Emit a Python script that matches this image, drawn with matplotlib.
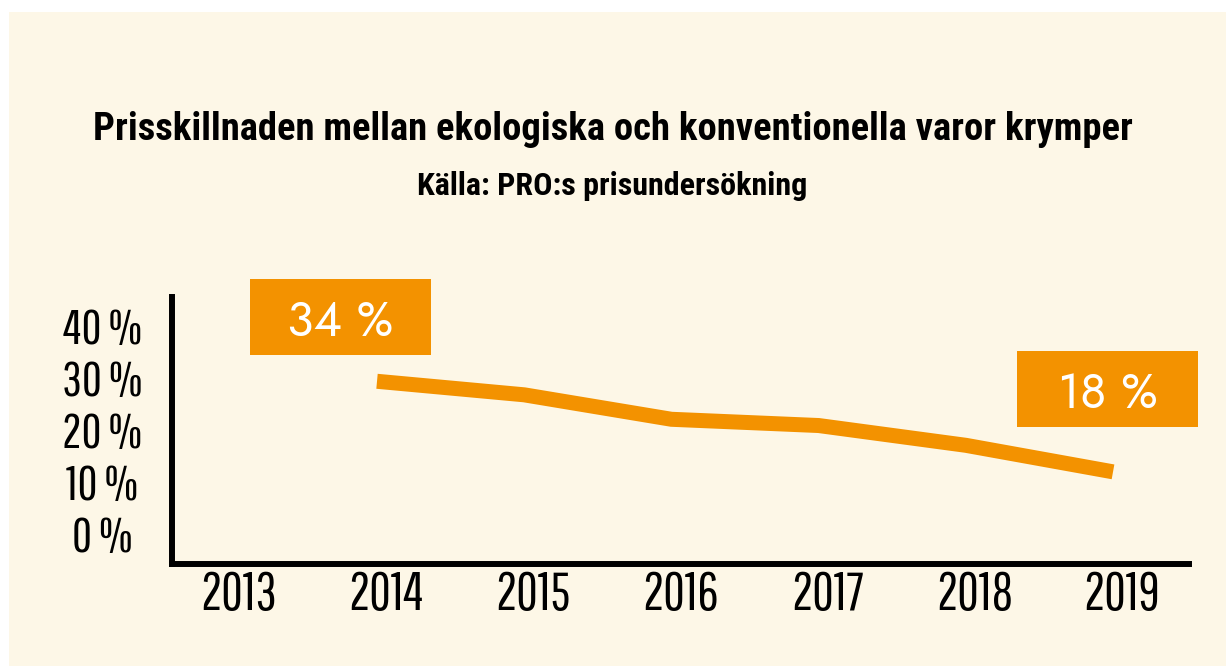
import matplotlib
matplotlib.use('Agg')
import matplotlib.pyplot as plt
from matplotlib.patches import Rectangle
from matplotlib.transforms import ScaledTranslation

# values (y axis in percent)
years = [2014, 2015, 2016, 2017, 2018, 2019]
price_gap = [29.4, 26.8, 22.1, 20.9, 17.1, 12.0]
tick_years = [2013, 2014, 2015, 2016, 2017, 2018, 2019]
y_ticks = [0, 10, 20, 30, 40]
y_labels = ['0 %', '10 %', '20 %', '30 %', '40 %']
callouts = ['34 %', '18 %']

title = 'Prisskillnaden mellan ekologiska och konventionella varor krymper'
subtitle = 'Källa: PRO:s prisundersökning'

ORANGE = '#F39200'
CREAM = '#FDF7E7'
TICKFONT = ['Pathway Gothic One', 'DejaVu Sans']
HEADFONT = ['Roboto Condensed', 'DejaVu Sans']
BOXFONT = ['Jost', 'DejaVu Sans']

fig = plt.figure(figsize=(12.26, 6.66), dpi=100, facecolor='white')
fig.patches.append(Rectangle((9 / 1226, 0), 1, (666 - 12) / 666,
                             transform=fig.transFigure, facecolor=CREAM,
                             edgecolor='none', zorder=-10))

ax = fig.add_axes([0.1399, 0.1532, 0.8299, 0.4009])
ax.set_facecolor('none')
ax.plot(years, price_gap, color=ORANGE, lw=10.8,
        solid_capstyle='butt', solid_joinstyle='miter', zorder=3)

ax.set_xlim(2012.604, 2019.516)
ax.set_ylim(-5.7, 45.6)
for side in ['top', 'right']:
    ax.spines[side].set_visible(False)
for side in ['left', 'bottom']:
    ax.spines[side].set_linewidth(4.3)
    ax.spines[side].set_color('black')

ax.set_xticks(tick_years)
ax.set_xticklabels([str(y) for y in tick_years], family=TICKFONT, fontsize=38)
ax.set_yticks(y_ticks)
ax.set_yticklabels(y_labels, family=TICKFONT, fontsize=35, ha='center')
ax.tick_params(axis='x', length=0, pad=4)
ax.tick_params(axis='y', length=0, pad=50)
shift = ScaledTranslation(9 / 100, 0, fig.dpi_scale_trans)
for lab in ax.get_xticklabels():
    lab.set_transform(lab.get_transform() + shift)

# callout boxes near first and last point
box_w, box_h = 1.23, 14.6
offsets = [(-0.248, 12.3), (-0.037, 15.9)]
for (i, txt), (dx, dy) in zip(zip([0, -1], callouts), offsets):
    cx, cy = years[i] + dx, price_gap[i] + dy
    ax.add_patch(Rectangle((cx - box_w / 2, cy - box_h / 2), box_w, box_h,
                           facecolor=ORANGE, edgecolor='none',
                           clip_on=False, zorder=4))
    ax.text(cx, cy, txt, color='white', fontsize=35, family=BOXFONT,
            fontweight='medium', ha='center', va='center_baseline',
            zorder=5, clip_on=False)

fig.text(0.4996, (666 - 140) / 666, title, family=HEADFONT, fontweight='bold',
         fontsize=27.8, ha='center', va='baseline')
fig.text(0.4996, (666 - 195) / 666, subtitle, family=HEADFONT, fontweight='bold',
         fontsize=23, ha='center', va='baseline')

plt.savefig('out.png', dpi=100, facecolor=fig.get_facecolor())
plt.close()
